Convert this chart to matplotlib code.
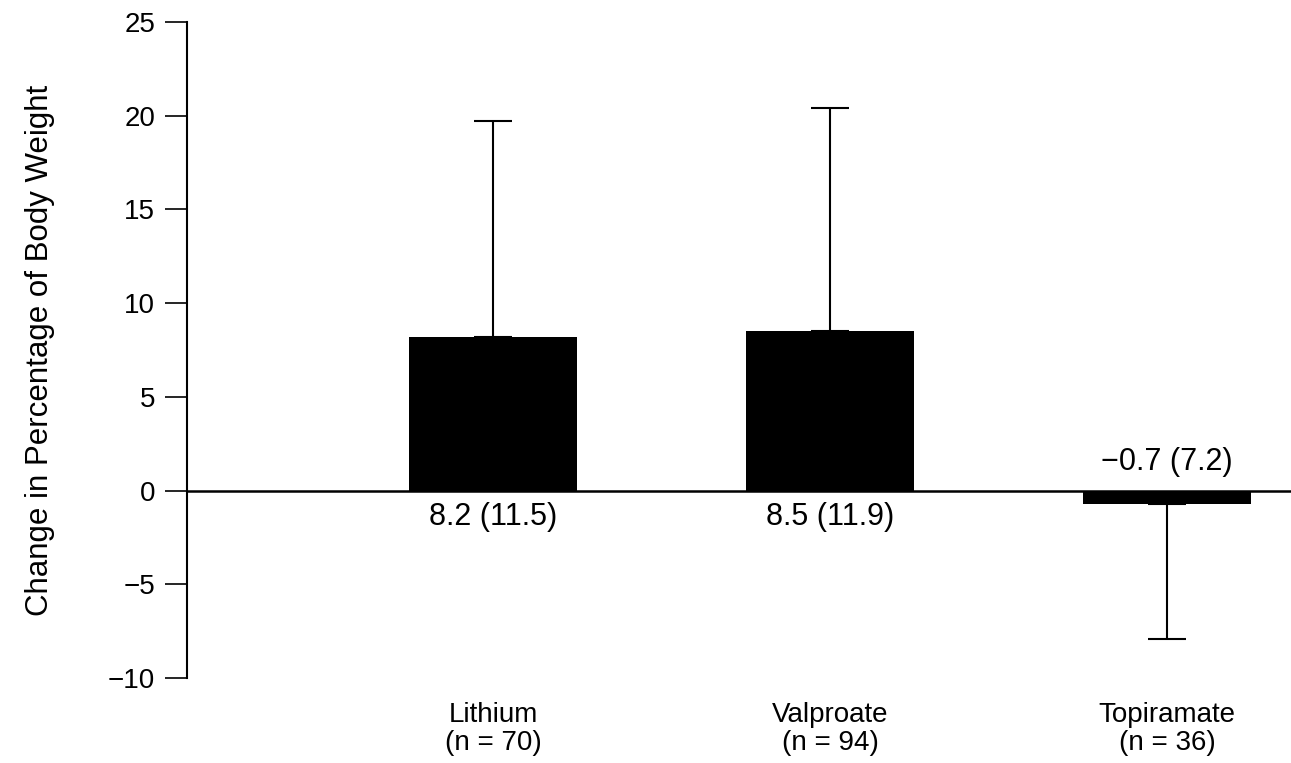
import numpy as np
import matplotlib
import matplotlib.pyplot as plt

matplotlib.rc('font', family=['Liberation Sans', 'DejaVu Sans'], size=16)

## Data
drugs = ['Lithium', 'Valproate', 'Topiramate']
n_pat = [70, 94, 36]
mean_change = [8.2, 8.5, -0.7]
sd_change = [11.5, 11.9, 7.2]

x = np.arange(len(drugs))
mean_change = np.array(mean_change)
sd_change = np.array(sd_change)

# one-sided error bars, pointing away from zero
err_lo = np.where(mean_change < 0, sd_change, 0)
err_hi = np.where(mean_change >= 0, sd_change, 0)

fig = plt.figure(figsize=(12.91, 7.63), dpi=100)
ax = fig.add_axes([0.1449, 0.1114, 0.8551, 0.8598])

ax.bar(x, mean_change, width=0.5, color='black', zorder=2)
ax.errorbar(x, mean_change, yerr=[err_lo, err_hi], fmt='none',
	ecolor='black', elinewidth=1.5, capsize=14, capthick=1.5, zorder=3)
ax.axhline(0, color='black', lw=1.8, zorder=1)

# value labels
for xi, m, s in zip(x, mean_change, sd_change):
	lab = ('%.1f (%.1f)' % (m, s)).replace('-', '\u2212')
	if m >= 0:
		ax.text(xi, -0.6, lab, ha='center', va='top', fontsize=22)
	else:
		ax.text(xi, 0.7, lab, ha='center', va='bottom', fontsize=22)

ax.set_xlim(-0.908, 2.368)
ax.set_ylim(-10, 25)
ax.set_yticks(np.arange(-10, 26, 5))
ax.set_yticklabels([str(v).replace('-', '\u2212') for v in range(-10, 26, 5)])
ax.set_xticks(x)
ax.set_xticklabels(['%s\n(n = %d)' % (d, n) for d, n in zip(drugs, n_pat)],
	fontsize=20, linespacing=1.12)
ax.tick_params(axis='x', length=0, pad=17)
ax.tick_params(axis='y', length=16, width=1.2, pad=7, labelsize=20)

for sp in ['top', 'right', 'bottom']:
	ax.spines[sp].set_visible(False)
ax.spines['left'].set_linewidth(1.5)

ax.set_ylabel('Change in Percentage of Body Weight', fontsize=22.5)
ax.yaxis.set_label_coords(-0.12, 0.5)

fig.savefig('out.png', dpi=100)
